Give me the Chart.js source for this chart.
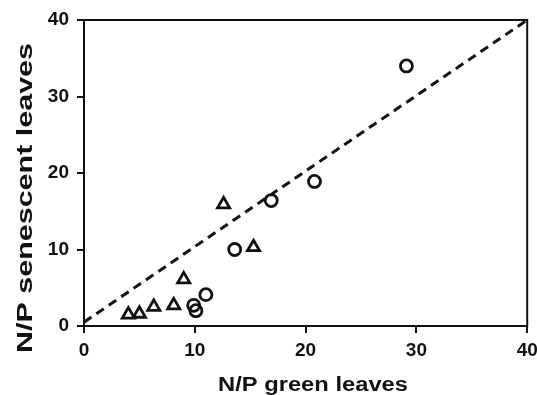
<!DOCTYPE html>
<html>
<head>
<meta charset="utf-8">
<script src="https://cdn.jsdelivr.net/npm/chart.js@4"></script>
<style>
  html, body { margin: 0; padding: 0; background: #fff; }
  #wrap { width: 537px; height: 395px; }
</style>
</head>
<body>
<div id="wrap"><canvas id="chart"></canvas></div>
<script>
const circleX = [9.9, 10.1, 11.0, 13.6, 16.9, 20.8, 29.1];
const circleY = [2.7, 2.0, 4.1, 10.0, 16.4, 18.9, 34.0];
const triX = [4.0, 5.0, 6.3, 8.1, 9.0, 12.6, 15.3];
const triY = [1.5, 1.6, 2.5, 2.7, 6.1, 15.9, 10.3];
const lineX = [0, 40];
const lineY = [0.5, 40];
const xTicks = [0, 10, 20, 30, 40];
const yTicks = [0, 10, 20, 30, 40];
const xTitle = 'N/P green leaves';
const yTitle = 'N/P senescent leaves';

const FONT = '"Liberation Sans", Arial, sans-serif';
const pts = (xs, ys) => xs.map((x, i) => ({ x: x, y: ys[i] }));

// box on top/right and the two axis titles
const frame = {
    id: 'frame',
    afterDraw(chart) {
        const ctx = chart.ctx, a = chart.chartArea;
        ctx.save();
        ctx.strokeStyle = '#111';
        ctx.lineWidth = 2;
        ctx.strokeRect(a.left, a.top, a.right - a.left, a.bottom - a.top);

        ctx.fillStyle = '#111';
        ctx.font = 'bold 20px ' + FONT;
        ctx.textAlign = 'center';
        ctx.textBaseline = 'alphabetic';
        let w = ctx.measureText(xTitle).width;
        ctx.save();
        ctx.translate(313, 391);
        ctx.scale(190 / w, 1);
        ctx.fillText(xTitle, 0, 0);
        ctx.restore();

        ctx.font = 'bold 22px ' + FONT;
        w = ctx.measureText(yTitle).width;
        ctx.translate(32, 198);
        ctx.rotate(-Math.PI / 2);
        ctx.scale(310 / w, 1);
        ctx.fillText(yTitle, 0, 0);
        ctx.restore();
    }
};

const axisStyle = (ticks) => ({
    type: 'linear',
    min: 0,
    max: 40,
    afterBuildTicks: s => { s.ticks = ticks.map(v => ({ value: v })); },
    grid: { drawOnChartArea: false, color: '#111', lineWidth: 2, tickLength: 7 },
    border: { color: '#111', width: 2 },
    ticks: { color: '#111', font: { family: FONT, size: 19, weight: 'bold' }, padding: 6 }
});

const xScale = axisStyle(xTicks);
xScale.afterFit = s => { s.height = 69; s.paddingLeft = 0; s.paddingRight = 0; };
const yScale = axisStyle(yTicks);
yScale.ticks.padding = 8;
yScale.afterFit = s => { s.width = 84; s.paddingTop = 0; s.paddingBottom = 0; };

new Chart(document.getElementById('chart'), {
    type: 'scatter',
    data: {
        datasets: [{
            type: 'line',
            data: pts(lineX, lineY),
            borderColor: '#111',
            borderWidth: 3,
            borderDash: [9, 6],
            pointRadius: 0,
            fill: false
        }, {
            data: pts(circleX, circleY),
            pointStyle: 'circle',
            pointRadius: 6,
            borderColor: '#111',
            borderWidth: 2.8,
            backgroundColor: 'rgba(0,0,0,0)'
        }, {
            data: pts(triX, triY),
            pointStyle: 'triangle',
            pointRadius: 7,
            borderColor: '#111',
            borderWidth: 2.8,
            backgroundColor: 'rgba(0,0,0,0)'
        }]
    },
    plugins: [frame],
    options: {
        responsive: true,
        maintainAspectRatio: false,
        animation: false,
        layout: { padding: { top: 20, right: 8, left: 0, bottom: 0 } },
        plugins: { legend: { display: false }, tooltip: { enabled: false } },
        scales: { x: xScale, y: yScale }
    }
});
</script>
</body>
</html>
